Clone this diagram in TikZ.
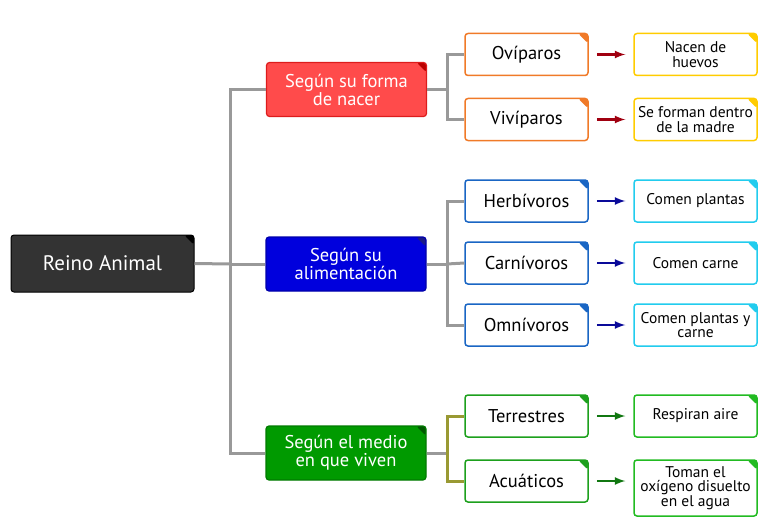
\documentclass[tikz,border=0pt]{standalone}
\usepackage{fontspec}
\setmainfont{PT Sans}
\usetikzlibrary{arrows,positioning}
\definecolor{rootgray}{HTML}{333333}
\definecolor{redfill}{HTML}{FF4B4B}
\definecolor{redline}{HTML}{DD1C1C}
\definecolor{redmark}{HTML}{BB0000}
\definecolor{bluefill}{HTML}{0000DD}
\definecolor{blueline}{HTML}{0000AA}
\definecolor{bluemark}{HTML}{1A1A88}
\definecolor{greenfill}{HTML}{009A00}
\definecolor{greenline}{HTML}{007A00}
\definecolor{greenmark}{HTML}{005A00}
\definecolor{orangeline}{HTML}{F07A28}
\definecolor{yellowline}{HTML}{FFCC00}
\definecolor{blueboxline}{HTML}{1A66C4}
\definecolor{cyanline}{HTML}{22CCEE}
\definecolor{greenboxline}{HTML}{1DA01D}
\definecolor{leafline}{HTML}{22BB22}
\definecolor{connector}{HTML}{999999}
\definecolor{olive}{HTML}{999933}
\definecolor{arrowred}{HTML}{A00010}
\definecolor{arrowblue}{HTML}{0A0A99}
\definecolor{arrowgreen}{HTML}{117711}
\tikzset{%
	corner/.style   = {path picture={\fill[#1] (path picture bounding box.north east) -- ++(-10pt,0) -- ++(10pt,-10pt) -- cycle;}},
	rootbox/.style  = {draw=black, fill=rootgray, line width=1pt, rounded corners=3pt, minimum width=183pt, minimum height=57pt, text=white, font=\fontsize{21}{23}\selectfont, corner=black},
	group/.style    = {draw=#1line, fill=#1fill, line width=1.2pt, rounded corners=3pt, minimum width=160pt, minimum height=54pt, text=white, align=center, font=\fontsize{18.5}{18}\selectfont, corner=#1mark},
	kind/.style     = {draw=#1, fill=white, line width=1.5pt, rounded corners=3pt, minimum width=123pt, minimum height=42pt, align=center, font=\fontsize{18.5}{18}\selectfont, corner=#1},
	leaf/.style     = {draw=#1, fill=white, line width=1.5pt, rounded corners=3pt, minimum width=123pt, minimum height=42pt, align=center, font=\fontsize{15.5}{14.5}\selectfont, corner=#1},
	link/.style     = {draw=connector, line width=3pt},
	arrow/.style    = {line width=2.5pt, -latex, draw=#1, fill=#1},
}

\begin{document}
\begin{tikzpicture}[x=1pt,y=-1pt]
	\useasboundingbox (0,0) rectangle (778,532);
	
	% ramas
	\coordinate (rj) at (230,264);
	\coordinate (redj) at (447,89.5);
	\coordinate (bluej) at (447,264);
	\coordinate (greenj) at (447,453);
	
	\node[rootbox] (root) at (102.5,263.5) {Reino Animal};
	\node[group=red] (nacer) at (346.5,89.5) {Según su forma\\de nacer};
	\node[group=blue] (alim) at (346,264) {Según su\\alimentación};
	\node[group=green] (medio) at (346,453) {Según el medio\\en que viven};
	
	\node[kind=orangeline] (ovi) at (526.5,54.5) {Ovíparos};
	\node[kind=orangeline] (vivi) at (526.5,119.5) {Vivíparos};
	\node[kind=blueboxline] (herb) at (526.5,201) {Herbívoros};
	\node[kind=blueboxline] (carn) at (526.5,263) {Carnívoros};
	\node[kind=blueboxline] (omni) at (526.5,325) {Omnívoros};
	\node[kind=greenboxline] (terr) at (526.5,416) {Terrestres};
	\node[kind=greenboxline] (acua) at (526.5,481) {Acuáticos};
	
	\node[leaf=yellowline] (huevos) at (695.5,54.5) {Nacen de\\huevos};
	\node[leaf=yellowline] (madre) at (695.5,119.5) {Se forman dentro\\de la madre};
	\node[leaf=cyanline] (plantas) at (695.5,201) {Comen plantas};
	\node[leaf=cyanline] (carne) at (695.5,263) {Comen carne};
	\node[leaf=cyanline] (ambos) at (695.5,325) {Comen plantas y\\carne};
	\node[leaf=leafline] (aire) at (695.5,416) {Respiran aire};
	\node[leaf=leafline, minimum height=56pt] (agua) at (695.5,488) {Toman el\\oxígeno disuelto\\en el agua};
	
	\draw[link] (root.east) -- (rj);
	\draw[link] (rj) |- (nacer.west);
	\draw[link] (rj) |- (medio.west);
	\draw[link] (rj) -- (alim.west);
	
	\draw[link] (nacer.east) -- (redj);
	\draw[link] (redj) |- (ovi.west);
	\draw[link] (redj) |- (vivi.west);
	\draw[link] (alim.east) -- (bluej);
	\draw[link] (bluej) |- (herb.west);
	\draw[link] (bluej) |- (omni.west);
	\draw[link] (bluej) -- (carn.west);
	\draw[link] (medio.east) -- (greenj);
	\draw[link, draw=olive] (terr.west) -| (greenj) |- (acua.west);
	
	\draw[arrow=arrowred] ([xshift=8pt]ovi.east) -- ([xshift=-8pt]huevos.west);
	\draw[arrow=arrowred] ([xshift=8pt]vivi.east) -- ([xshift=-8pt]madre.west);
	\draw[arrow=arrowblue] ([xshift=8pt]herb.east) -- ([xshift=-8pt]plantas.west);
	\draw[arrow=arrowblue] ([xshift=8pt]carn.east) -- ([xshift=-8pt]carne.west);
	\draw[arrow=arrowblue] ([xshift=8pt]omni.east) -- ([xshift=-8pt]ambos.west);
	\draw[arrow=arrowgreen] ([xshift=8pt]terr.east) -- ([xshift=-8pt]aire.west);
	\draw[arrow=arrowgreen] ([xshift=8pt]acua.east) -- ([xshift=-8pt]agua.west |- acua.east);
	
\end{tikzpicture}
\end{document}
